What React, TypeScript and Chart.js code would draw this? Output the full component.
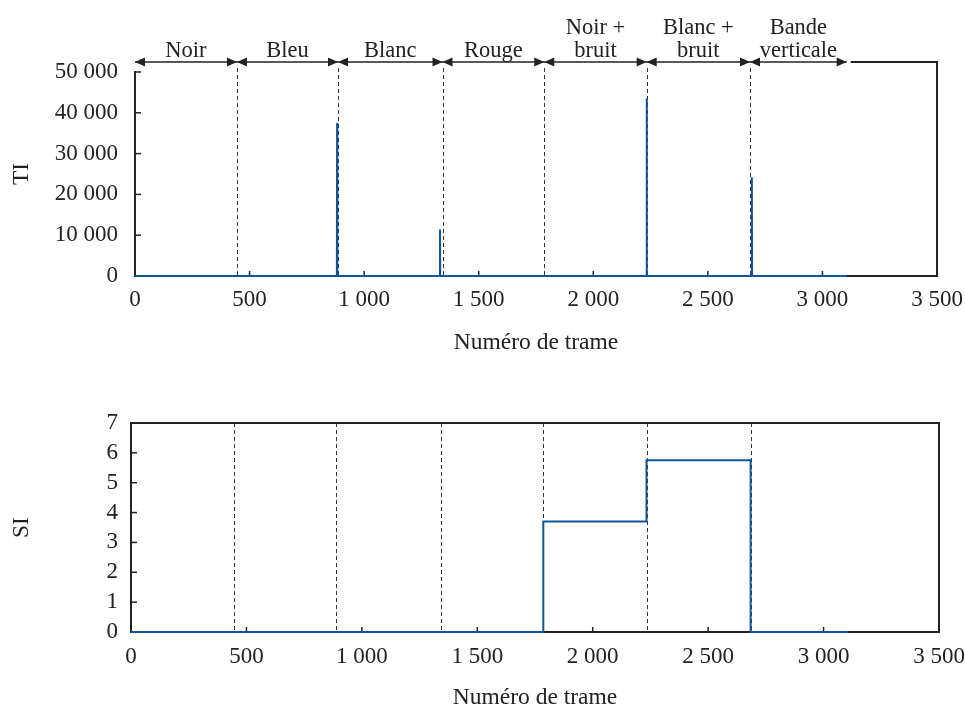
import React, { useEffect, useRef } from 'react';
import { Chart, registerables } from 'chart.js';

Chart.register(...registerables);

const FONT = "'Liberation Serif', 'Times New Roman', serif";
const INK = '#222222';
const BLUE = '#11549e';

// ---- data ----
const frameTicks = [0, 500, 1000, 1500, 2000, 2500, 3000, 3500];
const tiTicks = [0, 10000, 20000, 30000, 40000, 50000];
const siTicks = [0, 1, 2, 3, 4, 5, 6, 7];

const segmentNames = [
  ['Noir'],
  ['Bleu'],
  ['Blanc'],
  ['Rouge'],
  ['Noir +', 'bruit'],
  ['Blanc +', 'bruit'],
  ['Bande', 'verticale'],
];
const segmentBounds = [0, 445, 886, 1342, 1786, 2233, 2684, 3106];

const tiFrames = [0, 881, 882, 883, 1330, 1331, 1332, 2232, 2233, 2234, 2691, 2692, 2693, 3106];
const tiValues = [0, 0, 37500, 0, 0, 11400, 0, 0, 43500, 0, 0, 24200, 0, 0];

const siFrames = [0, 1786, 2233, 2684, 3106];
const siValues = [0, 3.7, 5.75, 0, 0];

const fmt = (v: number) => String(v).replace(/\B(?=(\d{3})+(?!\d))/g, ' ');

function inwardTicks(chart: any) {
  const { ctx, chartArea, scales } = chart;
  const { left, bottom } = chartArea;
  ctx.save();
  ctx.strokeStyle = INK;
  ctx.lineWidth = 1.5;
  scales.x.ticks.forEach((t: any) => {
    if (t.value === scales.x.min || t.value === scales.x.max) return;
    const px = scales.x.getPixelForValue(t.value);
    ctx.beginPath();
    ctx.moveTo(px, bottom);
    ctx.lineTo(px, bottom - 5);
    ctx.stroke();
  });
  scales.y.ticks.forEach((t: any) => {
    if (t.value === scales.y.min) return;
    const py = scales.y.getPixelForValue(t.value);
    ctx.beginPath();
    ctx.moveTo(left, py);
    ctx.lineTo(left + 6, py);
    ctx.stroke();
  });
  ctx.restore();
}

function dashedBounds(chart: any, fromY: number) {
  const { ctx, chartArea, scales } = chart;
  ctx.save();
  ctx.strokeStyle = '#333';
  ctx.lineWidth = 1;
  ctx.setLineDash([4, 3]);
  segmentBounds.slice(1, -1).forEach((b) => {
    const px = Math.round(scales.x.getPixelForValue(b)) + 0.5;
    ctx.beginPath();
    ctx.moveTo(px, fromY);
    ctx.lineTo(px, chartArea.bottom);
    ctx.stroke();
  });
  ctx.restore();
}

const topPlugin = {
  id: 'topDecor',
  beforeDatasetsDraw(chart: any) {
    const { ctx, chartArea, scales } = chart;
    const lineY = chartArea.top - 10;
    dashedBounds(chart, lineY + 6);
    inwardTicks(chart);
    const endPx = scales.x.getPixelForValue(segmentBounds[segmentBounds.length - 1]);
    ctx.save();
    ctx.strokeStyle = INK;
    ctx.lineWidth = 2;
    ctx.beginPath();
    ctx.moveTo(endPx + 4, lineY);
    ctx.lineTo(chartArea.right, lineY);
    ctx.lineTo(chartArea.right, chartArea.bottom);
    ctx.stroke();
    ctx.restore();
  },
  afterDraw(chart: any) {
    const { ctx, chartArea, scales } = chart;
    const lineY = chartArea.top - 10;
    const x = scales.x;
    ctx.save();
    ctx.strokeStyle = INK;
    ctx.fillStyle = INK;
    ctx.lineWidth = 1.3;
    const x0 = x.getPixelForValue(segmentBounds[0]);
    const x1 = x.getPixelForValue(segmentBounds[segmentBounds.length - 1]);
    ctx.beginPath();
    ctx.moveTo(x0, lineY);
    ctx.lineTo(x1, lineY);
    ctx.stroke();
    const L = 10;
    const H = 4.5;
    for (let i = 0; i < segmentNames.length; i++) {
      const a = x.getPixelForValue(segmentBounds[i]);
      const b = x.getPixelForValue(segmentBounds[i + 1]);
      ctx.beginPath();
      ctx.moveTo(a, lineY);
      ctx.lineTo(a + L, lineY - H);
      ctx.lineTo(a + L, lineY + H);
      ctx.closePath();
      ctx.fill();
      ctx.beginPath();
      ctx.moveTo(b, lineY);
      ctx.lineTo(b - L, lineY - H);
      ctx.lineTo(b - L, lineY + H);
      ctx.closePath();
      ctx.fill();
      const lines = segmentNames[i];
      const cx = (a + b) / 2;
      ctx.font = `22.5px ${FONT}`;
      ctx.textAlign = 'center';
      ctx.textBaseline = 'alphabetic';
      lines.forEach((t, k) => {
        const base = lineY - 5 - (lines.length - 1 - k) * 23;
        ctx.fillText(t, cx, base);
      });
    }
    ctx.restore();
  },
};

const bottomPlugin = {
  id: 'bottomDecor',
  beforeDatasetsDraw(chart: any) {
    const { ctx, chartArea } = chart;
    dashedBounds(chart, chartArea.top);
    inwardTicks(chart);
    ctx.save();
    ctx.strokeStyle = INK;
    ctx.lineWidth = 2;
    ctx.beginPath();
    ctx.moveTo(chartArea.left, chartArea.top);
    ctx.lineTo(chartArea.right, chartArea.top);
    ctx.lineTo(chartArea.right, chartArea.bottom);
    ctx.stroke();
    ctx.restore();
  },
};

function makeOptions(cfg: {
  yMax: number;
  yTicks: number[];
  yTitle: string;
  yWidth: number;
  yPad: number;
  xHeight: number;
  xTickPad: number;
  xTitlePad: number;
  padTop: number;
  padRight: number;
}) {
  return {
    responsive: false,
    animation: false as const,
    maintainAspectRatio: false,
    layout: { padding: { top: cfg.padTop, right: cfg.padRight, left: 0, bottom: 0 } },
    plugins: { legend: { display: false }, tooltip: { enabled: false } },
    elements: { point: { radius: 0 } },
    scales: {
      x: {
        type: 'linear' as const,
        min: 0,
        max: 3500,
        grid: { display: false, drawTicks: false },
        border: { display: true, color: INK, width: 2 },
        afterBuildTicks: (s: any) => {
          s.ticks = frameTicks.map((v) => ({ value: v }));
        },
        afterFit: (s: any) => {
          s.height = cfg.xHeight;
          s.paddingLeft = 0;
          s.paddingRight = 0;
        },
        ticks: {
          padding: cfg.xTickPad,
          color: INK,
          font: { family: FONT, size: 23 },
          maxRotation: 0,
          autoSkip: false,
          callback: (v: any) => fmt(Number(v)),
        },
        title: {
          display: true,
          text: 'Numéro de trame',
          color: INK,
          font: { family: FONT, size: 23.5 },
          padding: { top: 0, bottom: cfg.xTitlePad },
        },
      },
      y: {
        type: 'linear' as const,
        min: 0,
        max: cfg.yMax,
        grid: { display: false, drawTicks: false },
        border: { display: true, color: INK, width: 2 },
        afterBuildTicks: (s: any) => {
          s.ticks = cfg.yTicks.map((v) => ({ value: v }));
        },
        afterFit: (s: any) => {
          s.width = cfg.yWidth;
          s.paddingTop = 0;
          s.paddingBottom = 0;
        },
        ticks: {
          padding: cfg.yPad,
          color: INK,
          font: { family: FONT, size: 23 },
          autoSkip: false,
          callback: (v: any) => fmt(Number(v)),
        },
        title: {
          display: true,
          text: cfg.yTitle,
          color: INK,
          font: { family: FONT, size: 23.5 },
          padding: { top: 8, bottom: 0 },
        },
      },
    },
  };
}

export default function App() {
  const topRef = useRef<HTMLCanvasElement>(null);
  const botRef = useRef<HTMLCanvasElement>(null);

  useEffect(() => {
    const top = new Chart(topRef.current as HTMLCanvasElement, {
      type: 'line',
      data: {
        datasets: [
          {
            data: tiFrames.map((f, i) => ({ x: f, y: tiValues[i] })),
            borderColor: BLUE,
            borderWidth: 2,
            pointRadius: 0,
            tension: 0,
            clip: 6,
          } as any,
        ],
      },
      options: makeOptions({
        yMax: 50000,
        yTicks: tiTicks,
        yTitle: 'TI',
        yWidth: 135,
        yPad: 17,
        xHeight: 94,
        xTickPad: 10,
        xTitlePad: 13,
        padTop: 72,
        padRight: 28,
      }) as any,
      plugins: [topPlugin],
    });
    const bot = new Chart(botRef.current as HTMLCanvasElement, {
      type: 'line',
      data: {
        datasets: [
          {
            data: siFrames.map((f, i) => ({ x: f, y: siValues[i] })),
            borderColor: BLUE,
            borderWidth: 2,
            pointRadius: 0,
            stepped: 'before',
            clip: 6,
          } as any,
        ],
      },
      options: makeOptions({
        yMax: 7,
        yTicks: siTicks,
        yTitle: 'SI',
        yWidth: 131,
        yPad: 13,
        xHeight: 88,
        xTickPad: 11,
        xTitlePad: 8,
        padTop: 43,
        padRight: 26,
      }) as any,
      plugins: [bottomPlugin],
    });
    return () => {
      top.destroy();
      bot.destroy();
    };
  }, []);

  return (
    <div
      style={{
        position: 'fixed',
        left: 0,
        top: 0,
        width: 965,
        height: 707,
        overflow: 'hidden',
        background: '#fff',
      }}
    >
      <canvas ref={topRef} width={965} height={370} style={{ position: 'absolute', left: 0, top: 0 }} />
      <canvas ref={botRef} width={965} height={340} style={{ position: 'absolute', left: 0, top: 380 }} />
    </div>
  );
}
